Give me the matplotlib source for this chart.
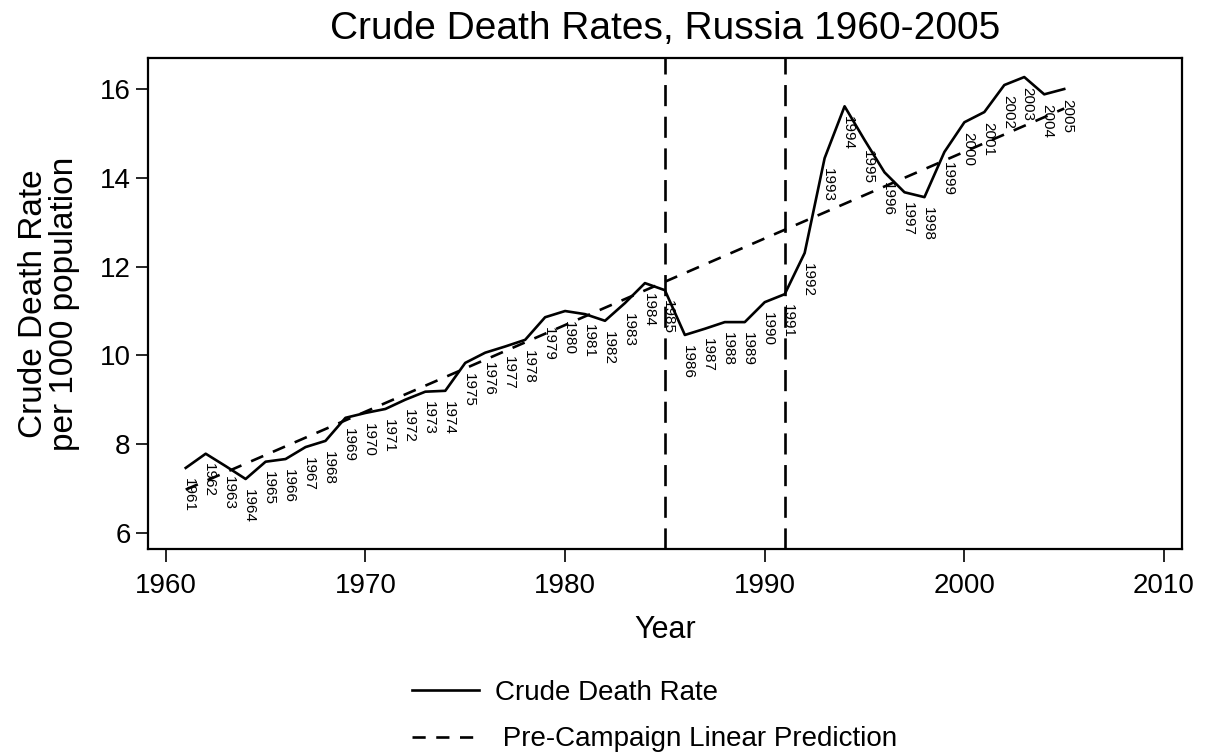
import numpy as np
import matplotlib.pyplot as plt

plt.rcParams['font.family'] = ['Liberation Sans', 'DejaVu Sans']

# crude death rate per 1000
years = list(range(1961, 2006))
cdr = [7.46, 7.78, 7.50, 7.21, 7.60, 7.66, 7.93, 8.07, 8.59, 8.70,
       8.79, 9.00, 9.18, 9.20, 9.83, 10.06, 10.20, 10.35, 10.86, 11.00,
       10.93, 10.78, 11.18, 11.63, 11.47, 10.46, 10.60, 10.75, 10.75, 11.20,
       11.38, 12.31, 14.45, 15.62, 14.86, 14.13, 13.68, 13.57, 14.59, 15.26,
       15.49, 16.10, 16.28, 15.89, 16.01]

# linear prediction (end points of the fitted line)
pred_years = [1961, 2005]
pred_vals = [6.97, 15.57]

campaign_lines = [1985, 1991]

fig = plt.figure(figsize=(12.09, 7.56), dpi=100)
ax = fig.add_axes([148/1209, 1-549/756, (1182-148)/1209, (549-58)/756])

ax.plot(years, cdr, color='black', lw=1.9, label='Crude Death Rate')
ax.plot(pred_years, pred_vals, color='black', lw=1.9, dashes=(5, 4),
        label=' Pre-Campaign Linear Prediction')
for xv in campaign_lines:
    ax.axvline(xv, color='black', lw=1.9, dashes=(8, 4))

for yr, v in zip(years, cdr):
    ax.annotate(str(yr), (yr, v), xytext=(2.5, -7), textcoords='offset points',
                rotation=-90, ha='center', va='top', fontsize=11)

ax.set_xlim(1959.11, 2010.9)
ax.set_ylim(5.63, 16.71)
ax.set_xticks(range(1960, 2011, 10))
ax.set_yticks(range(6, 17, 2))
ax.tick_params(axis='both', labelsize=20, length=9, width=1.2, direction='out')
ax.tick_params(axis='x', pad=8)
for s in ax.spines.values():
    s.set_linewidth(1.6)

ax.set_xlabel('Year', fontsize=22, labelpad=12)
ax.set_ylabel('Crude Death Rate\nper 1000 population', fontsize=24, labelpad=14,
              linespacing=1.0)
ax.set_title('Crude Death Rates, Russia 1960-2005', fontsize=28, pad=14)

ax.legend(loc='upper center', bbox_to_anchor=(0.49, -0.215), frameon=False,
          fontsize=20, handlelength=2.4, labelspacing=0.75, handletextpad=0.6)

plt.savefig('out.png', dpi=100)
